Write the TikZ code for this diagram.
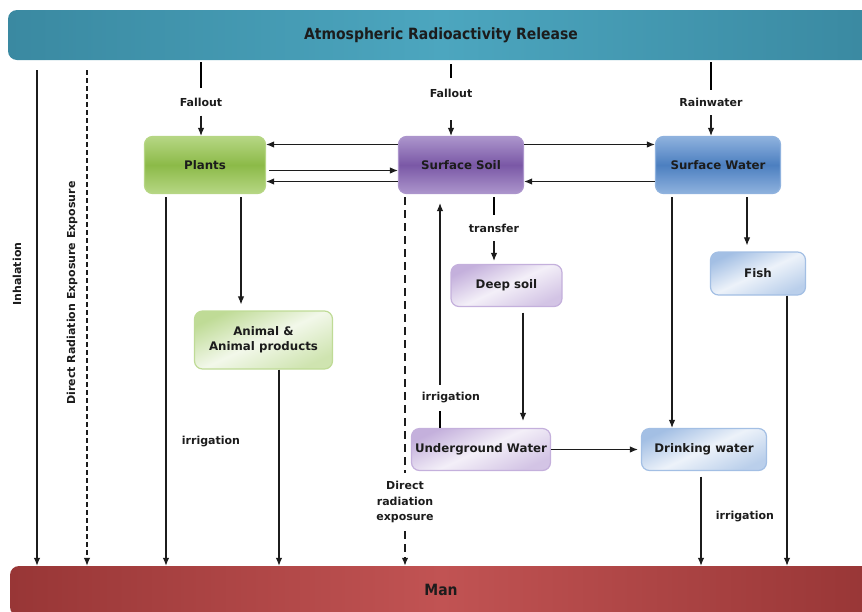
\documentclass[tikz,border=0pt]{standalone}
\usepackage{fontspec}
\setmainfont{DejaVu Sans}
\newfontfamily\condfont{DejaVu Sans Condensed}
\usetikzlibrary{arrows.meta}

\definecolor{barteal}{HTML}{3A89A1}
\definecolor{barteallt}{HTML}{4CA6BF}
\definecolor{barred}{HTML}{983636}
\definecolor{barredlt}{HTML}{C15353}
\definecolor{plantgreen}{HTML}{8CBA48}
\definecolor{plantgreenlt}{HTML}{B6D684}
\definecolor{soilpurple}{HTML}{7A58A6}
\definecolor{soilpurplelt}{HTML}{AC95CC}
\definecolor{waterblue}{HTML}{4C7FC0}
\definecolor{waterbluelt}{HTML}{8FB2DE}
\definecolor{palepurple}{HTML}{C4B0DC}
\definecolor{paleblue}{HTML}{A3BFE4}
\definecolor{palegreen}{HTML}{BFDB96}
\definecolor{inkgray}{HTML}{1C1C1C}

\begin{document}
\begin{tikzpicture}[x=1pt,y=-1pt,
  box/.style={rounded corners=8pt, line width=1.2pt, inner sep=0pt, align=center,
    font=\fontsize{11.8}{15}\selectfont\bfseries, text=inkgray},
  darkbox/.style={box, draw=#1lt, top color=#1lt, bottom color=#1lt, middle color=#1},
  palebox/.style={box, draw=#1, top color=#1, bottom color=#1!75, middle color=#1!20, shading angle=25},
  bar/.style={rounded corners=9pt, inner sep=0pt, text=inkgray,
    font=\condfont\fontsize{15.5}{18}\selectfont\bfseries},
  lbl/.style={inner sep=0pt, align=center, text=inkgray,
    font=\fontsize{11}{15.5}\selectfont\bfseries},
  arr/.style={-{Latex[length=8pt,width=6.5pt]}, line width=1.1pt, draw=inkgray},
  dash1/.style={dash pattern=on 5pt off 3pt},
  dash2/.style={dash pattern=on 8pt off 5pt, line width=1.5pt}
]
\useasboundingbox (0,0) rectangle (862,611);
\clip (0,0) rectangle (862,611);

% release and man
\node[bar, minimum width=866, minimum height=50, left color=barteal, right color=barteal, middle color=barteallt] (top) at (441,35) {Atmospheric Radioactivity Release};
\node[bar, minimum width=862, minimum height=50, left color=barred, right color=barred, middle color=barredlt] (man) at (441,591) {\raisebox{3pt}{Man}};

% compartments
\node[darkbox=plantgreen, minimum width=121, minimum height=57] (plants) at (205,165) {Plants};
\node[darkbox=soilpurple, minimum width=125, minimum height=57] (soil) at (461,165) {Surface Soil};
\node[darkbox=waterblue, minimum width=125, minimum height=57] (water) at (718,165) {Surface Water};
\node[palebox=palepurple, minimum width=111, minimum height=42] (deep) at (506.5,285.5) {Deep soil};
\node[palebox=paleblue, minimum width=95, minimum height=43] (fish) at (758,273.5) {Fish};
\node[palebox=palegreen, minimum width=138, minimum height=58] (animal) at (263.5,340) {Animal \&\\Animal products};
\node[palebox=palepurple, minimum width=139, minimum height=42] (under) at (481,449.5) {Underground Water};
\node[palebox=paleblue, minimum width=125, minimum height=42] (drink) at (704,449.5) {Drinking water};

% labels
\node[lbl, rotate=90] (inhlbl) at (17,274) {Inhalation};
\node[lbl, rotate=90] (drelbl) at (72,293) {Direct Radiation Exposure Exposure};
\node[lbl, minimum height=27] (f1) at (201,102) {Fallout};
\node[lbl, minimum height=30] (f2) at (451,93) {Fallout};
\node[lbl, minimum height=25] (rain) at (711,102.5) {Rainwater};
\node[lbl, minimum height=26] (tr) at (494,228) {transfer};
\node[lbl, minimum height=26] (irr2) at (451,398) {irrigation};
\node[lbl, inner ysep=8pt] (dlbl) at (405,502) {Direct\\radiation\\exposure};
\node[lbl] (irr1) at (211,441) {irrigation};
\node[lbl] (irr3) at (745,516) {irrigation};
\coordinate (inh) at (37,70);
\coordinate (dre) at (87,70);
\coordinate (irrx) at (440,398);

% straight to man
\draw[arr] (inh) -- (inh |- man.north);
\draw[arr, dash1] (dre) -- (dre |- man.north);

% from the release
\draw[line width=1.1pt, shorten <=2pt] (top.south -| f1) -- (f1.north);
\draw[arr] (f1.south) -- (f1 |- plants.north);
\draw[line width=1.1pt, shorten <=4pt] (top.south -| f2) -- (f2.north);
\draw[arr, shorten <=12pt] (f2.south) -- (f2 |- soil.north);
\draw[line width=1.1pt, shorten <=2pt] (top.south -| rain) -- (rain.north);
\draw[arr] (rain.south) -- (rain |- water.north);

% between plants, soil and water
\draw[arr] ([yshift=20.5]soil.west) -- ([yshift=20.5]plants.east);
\draw[arr, shorten <=3pt] ([yshift=-5.5]plants.east) -- ([yshift=-5.5]soil.west);
\draw[arr] ([yshift=-16.5]soil.west) -- ([yshift=-16.5]plants.east);
\draw[arr] ([yshift=20.5]soil.east) -- ([yshift=20.5]water.west);
\draw[arr] ([yshift=-16.5]water.west) -- ([yshift=-16.5]soil.east);

% plants
\draw[arr, shorten <=3pt] ([xshift=-39]plants.south) -- ([xshift=-39]plants.south |- man.north);
\draw[arr, shorten <=3pt, shorten >=6pt] ([xshift=36]plants.south) -- ([xshift=36]plants.south |- animal.north);
\draw[arr] ([xshift=15.5]animal.south) -- ([xshift=15.5]animal.south |- man.north);

% soil
\draw[dash2, draw=inkgray, shorten <=3pt] ([xshift=-56]soil.south) -- (dlbl.north);
\draw[arr, dash2] (dlbl.south) -- (dlbl.south |- man.north);
\draw[line width=1.1pt, shorten <=3pt] ([xshift=33]soil.south) -- (tr.north);
\draw[arr, shorten >=3pt] (tr.south) -- (tr |- deep.north);
\draw[arr, shorten <=5.5pt, shorten >=7pt] ([xshift=16.5]deep.south) -- ([xshift=16.5]deep.south |- under.north);
\draw[line width=1.1pt] (under.north -| irrx) -- (irr2.south -| irrx);
\draw[arr, shorten >=9pt] (irr2.north -| irrx) -- (soil.south -| irrx);
\draw[arr, shorten >=3pt] (under.east) -- (drink.west);

% water
\draw[arr, shorten <=3pt] ([xshift=-46]water.south) -- ([xshift=-46]water.south |- drink.north);
\draw[arr, shorten <=3pt, shorten >=6pt] ([xshift=29]water.south) -- ([xshift=29]water.south |- fish.north);
\draw[arr, shorten <=5.5pt] ([xshift=-3]drink.south) -- ([xshift=-3]drink.south |- man.north);
\draw[arr] ([xshift=29]fish.south) -- ([xshift=29]fish.south |- man.north);
\end{tikzpicture}
\end{document}
